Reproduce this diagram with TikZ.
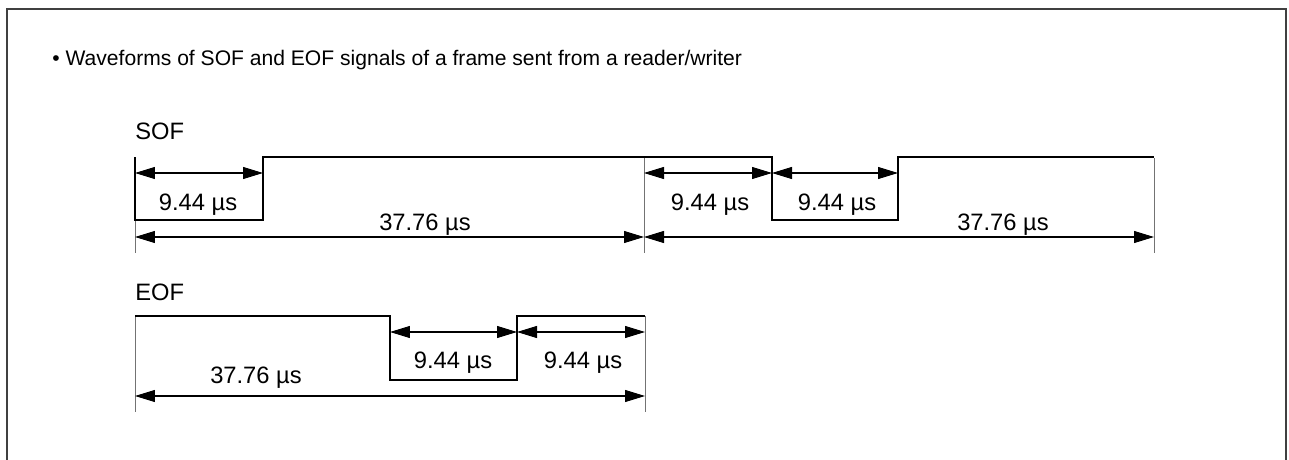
\documentclass[tikz,border=0pt]{standalone}
\usepackage{fontspec}
\setmainfont{Liberation Sans}
\usetikzlibrary{arrows.meta}

\begin{document}
\begin{tikzpicture}[x=0.02cm,y=-0.02cm,>={Triangle[length=0.4cm,width=0.24cm]}]
			\tikzstyle{wave} = [line width=1.6pt];
			\tikzstyle{dim} = [<->,line width=0.6pt];
			\tikzstyle{tick} = [line width=0.4pt,black!55];
			\tikzstyle{lbl} = [inner sep=0pt,anchor=base,font=\fontsize{13.5}{16}\selectfont];
			\useasboundingbox (0,0) rectangle (1289,460);
			\draw[line width=1.1pt,black!75] (7,460) -- (7,9) -- (1286,9) -- (1286,460);
			\node[lbl,anchor=base west,font=\fontsize{12}{15}\selectfont] (title) at (52,65) {\textbullet\ Waveforms of SOF and EOF signals of a frame sent from a reader/writer};
			% SOF
			\node[lbl,anchor=base west] (sof) at (135,139) {SOF};
			\draw[tick] (135,157) -- (135,253);
			\draw[tick] (644,158) -- (644,253);
			\draw[tick] (1154,158) -- (1154,253);
			\draw[wave] (135,157) -- (135,220) -- (263,220) -- (263,157) -- (772,157) -- (772,220) -- (898,220) -- (898,157) -- (1154,157);
			\coordinate (sa0) at (135,173);
			\coordinate (sa1) at (263,173);
			\coordinate (sa2) at (644,173);
			\coordinate (sa3) at (772,173);
			\coordinate (sa4) at (898,173);
			\coordinate (sb0) at (135,237);
			\coordinate (sb1) at (644,237);
			\coordinate (sb2) at (1154,237);
			\draw[dim] (sa0) -- (sa1);
			\draw[dim] (sa2) -- (sa3);
			\draw[dim] (sa3) -- (sa4);
			\draw[dim] (sb0) -- (sb1);
			\draw[dim] (sb1) -- (sb2);
			\node[lbl] (s1) at (198,210) {9.44 µs};
			\node[lbl] (s2) at (710,210) {9.44 µs};
			\node[lbl] (s3) at (837,210) {9.44 µs};
			\node[lbl] (s4) at (425,230) {37.76 µs};
			\node[lbl] (s5) at (1003,230) {37.76 µs};
			% EOF
			\node[lbl,anchor=base west] (eof) at (135,300) {EOF};
			\draw[tick] (135,316) -- (135,412);
			\draw[tick] (645,316) -- (645,412);
			\draw[wave] (135,316) -- (390,316) -- (390,380) -- (517,380) -- (517,316) -- (645,316);
			\coordinate (ea0) at (390,332);
			\coordinate (ea1) at (517,332);
			\coordinate (ea2) at (645,332);
			\coordinate (eb0) at (135,396);
			\coordinate (eb1) at (645,396);
			\draw[dim] (ea0) -- (ea1);
			\draw[dim] (ea1) -- (ea2);
			\draw[dim] (eb0) -- (eb1);
			\node[lbl] (e1) at (453,368) {9.44 µs};
			\node[lbl] (e2) at (583,368) {9.44 µs};
			\node[lbl] (e3) at (256,383) {37.76 µs};
		\end{tikzpicture}
\end{document}
